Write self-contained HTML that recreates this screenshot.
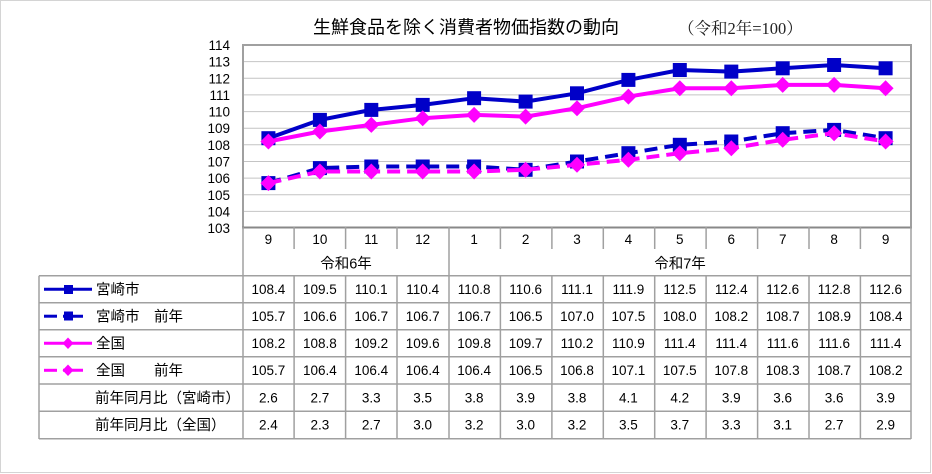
<!DOCTYPE html>
<html><head><meta charset="utf-8"><style>
html,body{margin:0;padding:0;background:#fff;}
svg{display:block;}
text{font-family:"Liberation Sans","Noto Sans CJK JP",sans-serif;fill:#000;}
.num{font-size:13.5px;text-anchor:middle;}
.yl{font-size:13.5px;text-anchor:end;}
.lg{font-size:14.5px;}
</style></head><body>
<svg width="932" height="474" viewBox="0 0 932 474" xmlns="http://www.w3.org/2000/svg">
<rect x="0.5" y="0.5" width="930" height="472" fill="#fff" stroke="#d4d4d4" stroke-width="1"/>
<text x="466" y="33.5" style="font-size:18px" text-anchor="middle">生鮮食品を除く消費者物価指数の動向</text>
<text x="678" y="34" style="font-size:16.5px;font-family:'Liberation Serif','Noto Serif CJK SC',serif;fill:#222">（令和2年=100）</text>
<!-- gridlines -->
<g stroke="#c4c4c4" stroke-width="1">
<line x1="243" x2="911" y1="61.6" y2="61.6"/>
<line x1="243" x2="911" y1="78.3" y2="78.3"/>
<line x1="243" x2="911" y1="94.9" y2="94.9"/>
<line x1="243" x2="911" y1="111.6" y2="111.6"/>
<line x1="243" x2="911" y1="128.2" y2="128.2"/>
<line x1="243" x2="911" y1="144.8" y2="144.8"/>
<line x1="243" x2="911" y1="161.5" y2="161.5"/>
<line x1="243" x2="911" y1="178.1" y2="178.1"/>
<line x1="243" x2="911" y1="194.8" y2="194.8"/>
<line x1="243" x2="911" y1="211.4" y2="211.4"/>
</g>
<rect x="243" y="45" width="668" height="182.5" fill="none" stroke="#a0a0a0" stroke-width="2"/>
<line x1="242" x2="912" y1="227.5" y2="227.5" stroke="#888" stroke-width="2"/>
<!-- y labels -->
<g class="yl">
<text class="yl" x="230" y="50">114</text>
<text class="yl" x="230" y="66.6">113</text>
<text class="yl" x="230" y="83.3">112</text>
<text class="yl" x="230" y="99.9">111</text>
<text class="yl" x="230" y="116.6">110</text>
<text class="yl" x="230" y="133.2">109</text>
<text class="yl" x="230" y="149.8">108</text>
<text class="yl" x="230" y="166.5">107</text>
<text class="yl" x="230" y="183.1">106</text>
<text class="yl" x="230" y="199.8">105</text>
<text class="yl" x="230" y="216.4">104</text>
<text class="yl" x="230" y="233">103</text>
</g>
<!-- series -->
<defs>
<rect id="sq" x="-7" y="-7" width="14" height="14" fill="#0000c8"/>
<polygon id="dm" points="0,-8 8,0 0,8 -8,0" fill="#ff00ff"/>
</defs>
<polyline fill="none" stroke="#0000c8" stroke-width="4" points="268.4,138.2 319.9,119.9 371.3,109.9 422.7,104.9 474.1,98.2 525.6,101.6 577,93.3 628.4,79.9 679.8,70 731.3,71.6 782.7,68.3 834.1,65 885.6,68.3"/>
<g>
<use href="#sq" x="268.4" y="138.2"/><use href="#sq" x="319.9" y="119.9"/><use href="#sq" x="371.3" y="109.9"/><use href="#sq" x="422.7" y="104.9"/><use href="#sq" x="474.1" y="98.2"/><use href="#sq" x="525.6" y="101.6"/><use href="#sq" x="577" y="93.3"/><use href="#sq" x="628.4" y="79.9"/><use href="#sq" x="679.8" y="70"/><use href="#sq" x="731.3" y="71.6"/><use href="#sq" x="782.7" y="68.3"/><use href="#sq" x="834.1" y="65"/><use href="#sq" x="885.6" y="68.3"/>
</g>
<polyline fill="none" stroke="#0000c8" stroke-width="4" stroke-dasharray="13 7" points="268.4,183.1 319.9,168.1 371.3,166.5 422.7,166.5 474.1,166.5 525.6,169.8 577,161.5 628.4,153.2 679.8,144.8 731.3,141.5 782.7,133.2 834.1,129.9 885.6,138.2"/>
<g>
<use href="#sq" x="268.4" y="183.1"/><use href="#sq" x="319.9" y="168.1"/><use href="#sq" x="371.3" y="166.5"/><use href="#sq" x="422.7" y="166.5"/><use href="#sq" x="474.1" y="166.5"/><use href="#sq" x="525.6" y="169.8"/><use href="#sq" x="577" y="161.5"/><use href="#sq" x="628.4" y="153.2"/><use href="#sq" x="679.8" y="144.8"/><use href="#sq" x="731.3" y="141.5"/><use href="#sq" x="782.7" y="133.2"/><use href="#sq" x="834.1" y="129.9"/><use href="#sq" x="885.6" y="138.2"/>
</g>
<polyline fill="none" stroke="#ff00ff" stroke-width="4" points="268.4,141.5 319.9,131.5 371.3,124.9 422.7,118.2 474.1,114.9 525.6,116.6 577,108.2 628.4,96.6 679.8,88.3 731.3,88.3 782.7,84.9 834.1,84.9 885.6,88.3"/>
<g>
<use href="#dm" x="268.4" y="141.5"/><use href="#dm" x="319.9" y="131.5"/><use href="#dm" x="371.3" y="124.9"/><use href="#dm" x="422.7" y="118.2"/><use href="#dm" x="474.1" y="114.9"/><use href="#dm" x="525.6" y="116.6"/><use href="#dm" x="577" y="108.2"/><use href="#dm" x="628.4" y="96.6"/><use href="#dm" x="679.8" y="88.3"/><use href="#dm" x="731.3" y="88.3"/><use href="#dm" x="782.7" y="84.9"/><use href="#dm" x="834.1" y="84.9"/><use href="#dm" x="885.6" y="88.3"/>
</g>
<polyline fill="none" stroke="#ff00ff" stroke-width="4" stroke-dasharray="13 7" points="268.4,183.1 319.9,171.5 371.3,171.5 422.7,171.5 474.1,171.5 525.6,169.8 577,164.8 628.4,159.8 679.8,153.2 731.3,148.2 782.7,139.8 834.1,133.2 885.6,141.5"/>
<g>
<use href="#dm" x="268.4" y="183.1"/><use href="#dm" x="319.9" y="171.5"/><use href="#dm" x="371.3" y="171.5"/><use href="#dm" x="422.7" y="171.5"/><use href="#dm" x="474.1" y="171.5"/><use href="#dm" x="525.6" y="169.8"/><use href="#dm" x="577" y="164.8"/><use href="#dm" x="628.4" y="159.8"/><use href="#dm" x="679.8" y="153.2"/><use href="#dm" x="731.3" y="148.2"/><use href="#dm" x="782.7" y="139.8"/><use href="#dm" x="834.1" y="133.2"/><use href="#dm" x="885.6" y="141.5"/>
</g>
<!-- table lines -->
<g stroke="#a0a0a0" stroke-width="1.5">
<line x1="243" x2="243" y1="227" y2="439"/>
<line x1="911" x2="911" y1="45" y2="439"/>
<line x1="449" x2="449" y1="227" y2="439"/>
<line x1="39" x2="39" y1="275.7" y2="439"/>
<line x1="39" x2="911" y1="275.7" y2="275.7"/>
<line x1="39" x2="911" y1="302.7" y2="302.7"/>
<line x1="39" x2="911" y1="329.7" y2="329.7"/>
<line x1="39" x2="911" y1="356.7" y2="356.7"/>
<line x1="39" x2="911" y1="384" y2="384"/>
<line x1="39" x2="911" y1="411.3" y2="411.3"/>
<line x1="39" x2="911" y1="438.7" y2="438.7"/>
</g>
<g stroke="#a0a0a0" stroke-width="1.5">
<line x1="294.1" x2="294.1" y1="227" y2="249"/><line x1="294.1" x2="294.1" y1="275.7" y2="439"/>
<line x1="345.6" x2="345.6" y1="227" y2="249"/><line x1="345.6" x2="345.6" y1="275.7" y2="439"/>
<line x1="397" x2="397" y1="227" y2="249"/><line x1="397" x2="397" y1="275.7" y2="439"/>
<line x1="500.4" x2="500.4" y1="227" y2="249"/><line x1="500.4" x2="500.4" y1="275.7" y2="439"/>
<line x1="551.9" x2="551.9" y1="227" y2="249"/><line x1="551.9" x2="551.9" y1="275.7" y2="439"/>
<line x1="603.3" x2="603.3" y1="227" y2="249"/><line x1="603.3" x2="603.3" y1="275.7" y2="439"/>
<line x1="654.7" x2="654.7" y1="227" y2="249"/><line x1="654.7" x2="654.7" y1="275.7" y2="439"/>
<line x1="706.1" x2="706.1" y1="227" y2="249"/><line x1="706.1" x2="706.1" y1="275.7" y2="439"/>
<line x1="757.6" x2="757.6" y1="227" y2="249"/><line x1="757.6" x2="757.6" y1="275.7" y2="439"/>
<line x1="809" x2="809" y1="227" y2="249"/><line x1="809" x2="809" y1="275.7" y2="439"/>
<line x1="860.4" x2="860.4" y1="227" y2="249"/><line x1="860.4" x2="860.4" y1="275.7" y2="439"/>
</g>
<!-- header -->
<g class="num">
<text class="num" x="268.4" y="244">9</text><text class="num" x="319.9" y="244">10</text><text class="num" x="371.3" y="244">11</text><text class="num" x="422.7" y="244">12</text><text class="num" x="474.1" y="244">1</text><text class="num" x="525.6" y="244">2</text><text class="num" x="577" y="244">3</text><text class="num" x="628.4" y="244">4</text><text class="num" x="679.8" y="244">5</text><text class="num" x="731.3" y="244">6</text><text class="num" x="782.7" y="244">7</text><text class="num" x="834.1" y="244">8</text><text class="num" x="885.6" y="244">9</text>
</g>
<text x="346" y="268.5" style="font-size:14.5px" text-anchor="middle">令和6年</text>
<text x="680" y="268.5" style="font-size:14.5px" text-anchor="middle">令和7年</text>
<!-- legend -->
<line x1="44" x2="92" y1="289.2" y2="289.2" stroke="#0000c8" stroke-width="3"/>
<rect x="64" y="285" width="9" height="9" fill="#0000c8"/>
<line x1="44" x2="57" y1="316.2" y2="316.2" stroke="#0000c8" stroke-width="3"/>
<line x1="63" x2="83" y1="316.2" y2="316.2" stroke="#0000c8" stroke-width="3"/>
<rect x="64" y="311.5" width="9" height="9" fill="#0000c8"/>
<line x1="44" x2="92" y1="343.2" y2="343.2" stroke="#ff00ff" stroke-width="3"/>
<polygon points="68,337.5 73.5,343.2 68,349 62.5,343.2" fill="#ff00ff"/>
<line x1="44" x2="57" y1="370.3" y2="370.3" stroke="#ff00ff" stroke-width="3"/>
<line x1="63" x2="83" y1="370.3" y2="370.3" stroke="#ff00ff" stroke-width="3"/>
<polygon points="68,364.5 73.5,370.3 68,376 62.5,370.3" fill="#ff00ff"/>
<text class="lg" x="96" y="294.5">宮崎市</text>
<text class="lg" x="96" y="321.5">宮崎市</text><text class="lg" x="154" y="321.5">前年</text>
<text class="lg" x="96" y="348.5">全国</text>
<text class="lg" x="96" y="375.5">全国</text><text class="lg" x="154" y="375.5">前年</text>
<text class="lg" x="95" y="402.8">前年同月比（宮崎市）</text>
<text class="lg" x="95" y="430">前年同月比（全国）</text>
<!-- values -->
<g class="num">
<text class="num" x="268.4" y="294">108.4</text><text class="num" x="319.9" y="294">109.5</text><text class="num" x="371.3" y="294">110.1</text><text class="num" x="422.7" y="294">110.4</text><text class="num" x="474.1" y="294">110.8</text><text class="num" x="525.6" y="294">110.6</text><text class="num" x="577" y="294">111.1</text><text class="num" x="628.4" y="294">111.9</text><text class="num" x="679.8" y="294">112.5</text><text class="num" x="731.3" y="294">112.4</text><text class="num" x="782.7" y="294">112.6</text><text class="num" x="834.1" y="294">112.8</text><text class="num" x="885.6" y="294">112.6</text>
<text class="num" x="268.4" y="321">105.7</text><text class="num" x="319.9" y="321">106.6</text><text class="num" x="371.3" y="321">106.7</text><text class="num" x="422.7" y="321">106.7</text><text class="num" x="474.1" y="321">106.7</text><text class="num" x="525.6" y="321">106.5</text><text class="num" x="577" y="321">107.0</text><text class="num" x="628.4" y="321">107.5</text><text class="num" x="679.8" y="321">108.0</text><text class="num" x="731.3" y="321">108.2</text><text class="num" x="782.7" y="321">108.7</text><text class="num" x="834.1" y="321">108.9</text><text class="num" x="885.6" y="321">108.4</text>
<text class="num" x="268.4" y="348">108.2</text><text class="num" x="319.9" y="348">108.8</text><text class="num" x="371.3" y="348">109.2</text><text class="num" x="422.7" y="348">109.6</text><text class="num" x="474.1" y="348">109.8</text><text class="num" x="525.6" y="348">109.7</text><text class="num" x="577" y="348">110.2</text><text class="num" x="628.4" y="348">110.9</text><text class="num" x="679.8" y="348">111.4</text><text class="num" x="731.3" y="348">111.4</text><text class="num" x="782.7" y="348">111.6</text><text class="num" x="834.1" y="348">111.6</text><text class="num" x="885.6" y="348">111.4</text>
<text class="num" x="268.4" y="375">105.7</text><text class="num" x="319.9" y="375">106.4</text><text class="num" x="371.3" y="375">106.4</text><text class="num" x="422.7" y="375">106.4</text><text class="num" x="474.1" y="375">106.4</text><text class="num" x="525.6" y="375">106.5</text><text class="num" x="577" y="375">106.8</text><text class="num" x="628.4" y="375">107.1</text><text class="num" x="679.8" y="375">107.5</text><text class="num" x="731.3" y="375">107.8</text><text class="num" x="782.7" y="375">108.3</text><text class="num" x="834.1" y="375">108.7</text><text class="num" x="885.6" y="375">108.2</text>
<text class="num" x="268.4" y="402.5">2.6</text><text class="num" x="319.9" y="402.5">2.7</text><text class="num" x="371.3" y="402.5">3.3</text><text class="num" x="422.7" y="402.5">3.5</text><text class="num" x="474.1" y="402.5">3.8</text><text class="num" x="525.6" y="402.5">3.9</text><text class="num" x="577" y="402.5">3.8</text><text class="num" x="628.4" y="402.5">4.1</text><text class="num" x="679.8" y="402.5">4.2</text><text class="num" x="731.3" y="402.5">3.9</text><text class="num" x="782.7" y="402.5">3.6</text><text class="num" x="834.1" y="402.5">3.6</text><text class="num" x="885.6" y="402.5">3.9</text>
<text class="num" x="268.4" y="429.5">2.4</text><text class="num" x="319.9" y="429.5">2.3</text><text class="num" x="371.3" y="429.5">2.7</text><text class="num" x="422.7" y="429.5">3.0</text><text class="num" x="474.1" y="429.5">3.2</text><text class="num" x="525.6" y="429.5">3.0</text><text class="num" x="577" y="429.5">3.2</text><text class="num" x="628.4" y="429.5">3.5</text><text class="num" x="679.8" y="429.5">3.7</text><text class="num" x="731.3" y="429.5">3.3</text><text class="num" x="782.7" y="429.5">3.1</text><text class="num" x="834.1" y="429.5">2.7</text><text class="num" x="885.6" y="429.5">2.9</text>
</g>
</svg>
</body></html>
